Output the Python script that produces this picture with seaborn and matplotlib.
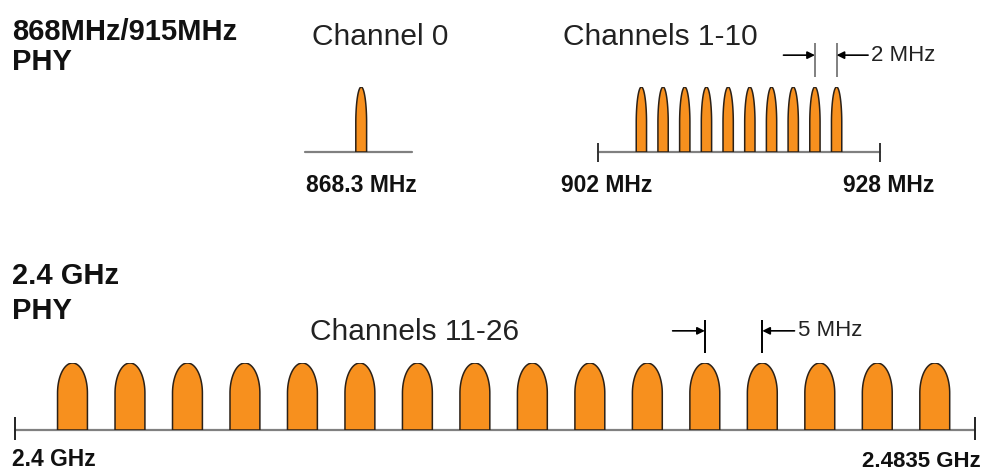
#!/usr/bin/env python3

# IEEE 802.15.4 channel layout: 868/915 MHz PHY and 2.4 GHz PHY.

import numpy as np
import seaborn as sns
import matplotlib.pyplot as plt

# Channel centre frequencies (MHz) and band edges.
ch0_centers = [868.3]
ch1_10_centers = [906, 908, 910, 912, 914, 916, 918, 920, 922, 924]
ch11_26_centers = [2405, 2410, 2415, 2420, 2425, 2430, 2435, 2440,
                   2445, 2450, 2455, 2460, 2465, 2470, 2475, 2480]
band_915 = [902, 928]
band_24 = [2400, 2483.5]
band_868_view = [863.1, 873.0]

ORANGE = "#F7901E"
EDGE = "#2b2118"
GREY = "#808080"
FONT = ["Liberation Sans", "DejaVu Sans"]

W, H = 987, 475


def pulse(ax, c, w, s=0.5):
    # Rectangle with an elliptical top, in data units.
    t = np.linspace(np.pi, 0, 60)
    xs = np.concatenate([[c - w / 2], c + w / 2 * np.cos(t), [c + w / 2]])
    ys = np.concatenate([[0], s + (1 - s) * np.sin(t), [0]])
    ax.fill(xs, ys, facecolor=ORANGE, edgecolor=EDGE, lw=1.1, zorder=3)


def panel(left, width, base, top):
    ax = fig.add_axes([left / W, 1 - base / H, width / W, (base - top) / H])
    ax.set_ylim(0, 1)
    ax.axis("off")
    return ax


def spacing_marker(ax, x0, x1, ytop, ybot, yarr, alen, label, lcolor, fs):
    ax.vlines([x0, x1], ybot, ytop, color=lcolor, lw=1.4, clip_on=False)
    ap = dict(arrowstyle="-|>", color="black", lw=1.2, mutation_scale=11,
              shrinkA=0, shrinkB=0)
    ax.annotate("", xy=(x0, yarr), xytext=(x0 - alen, yarr), arrowprops=ap,
                annotation_clip=False)
    ax.annotate("", xy=(x1, yarr), xytext=(x1 + alen, yarr), arrowprops=ap,
                annotation_clip=False)
    ax.text(x1 + alen * 1.1, yarr, label, ha="left", va="center",
            fontsize=fs, color="#222222", family=FONT)


sns.set_theme(style="white")
plt.rcParams["font.family"] = FONT

fig = plt.figure(figsize=(W / 100, H / 100), dpi=100)

# --- 868 MHz panel (channel 0) ---
ax1 = panel(305, 107, 152, 87)
ax1.set_xlim(*band_868_view)
ax1.plot(band_868_view, [0, 0], color=GREY, lw=1.6, zorder=2, clip_on=False)
for c in ch0_centers:
    pulse(ax1, c, 1.0, s=0.45)
ax1.text(ch0_centers[0], -0.51, f"{ch0_centers[0]} MHz", ha="center",
         va="center", fontsize=16.5, fontweight="bold", color="#111111")

# --- 915 MHz panel (channels 1-10) ---
ax2 = panel(598, 282, 152, 87)
ax2.set_xlim(*band_915)
ax2.plot(band_915, [0, 0], color=GREY, lw=1.6, zorder=2, clip_on=False)
ax2.vlines(band_915, -0.15, 0.14, color="#333333", lw=1.4, clip_on=False)
for c in ch1_10_centers:
    pulse(ax2, c, 0.95, s=0.45)
for x, lab in zip(band_915, ["902 MHz", "928 MHz"]):
    ax2.text(x + 0.8, -0.51, lab, ha="center", va="center", fontsize=16.5,
             fontweight="bold", color="#111111")
spacing_marker(ax2, ch1_10_centers[-2], ch1_10_centers[-1], 1.68, 1.15, 1.49,
               2.9, "2 MHz", GREY, 16)

# --- 2.4 GHz panel (channels 11-26) ---
ax3 = panel(15, 960, 430, 363)
ax3.set_xlim(*band_24)
ax3.plot(band_24, [0, 0], color=GREY, lw=1.6, zorder=2, clip_on=False)
ax3.vlines(band_24, -0.15, 0.19, color="#222222", lw=1.4, clip_on=False)
for c in ch11_26_centers:
    pulse(ax3, c, 2.6, s=0.55)
ax3.text(band_24[0] - 0.3, -0.44, "2.4 GHz", ha="left", va="center",
         fontsize=16.5, fontweight="bold", color="#111111")
ax3.text(band_24[1] + 0.5, -0.47, "2.4835 GHz", ha="right", va="center",
         fontsize=16, fontweight="bold", color="#111111")
spacing_marker(ax3, ch11_26_centers[11], ch11_26_centers[12], 1.64, 1.15,
               1.48, 2.8, "5 MHz", "black", 16)

# --- Titles ---
fig.text(12 / W, 1 - 40 / H, "868MHz/915MHz", fontsize=21,
         fontweight="bold", va="baseline", color="#111111")
fig.text(12 / W, 1 - 70 / H, "PHY", fontsize=21, fontweight="bold",
         va="baseline", color="#111111")
fig.text(12 / W, 1 - 284 / H, "2.4 GHz", fontsize=21, fontweight="bold",
         va="baseline", color="#111111")
fig.text(12 / W, 1 - 319 / H, "PHY", fontsize=21, fontweight="bold",
         va="baseline", color="#111111")
fig.text(312 / W, 1 - 45 / H, "Channel 0", fontsize=21.5, va="baseline",
         color="#222222")
fig.text(563 / W, 1 - 45 / H, "Channels 1-10", fontsize=21.5, va="baseline",
         color="#222222")
fig.text(310 / W, 1 - 340 / H, "Channels 11-26", fontsize=21.5,
         va="baseline", color="#222222")

fig.savefig("out.png", dpi=100, facecolor="white")
